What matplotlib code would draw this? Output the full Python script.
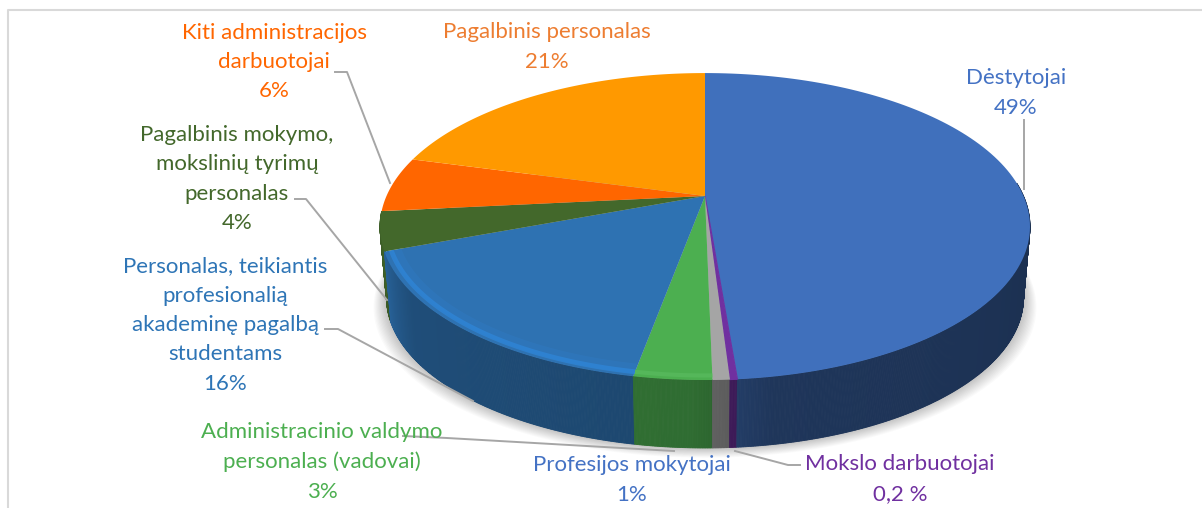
import numpy as np
import matplotlib
matplotlib.use('Agg')
import matplotlib.pyplot as plt
from matplotlib.patches import Polygon

plt.rcParams['font.family'] = ['Lato', 'DejaVu Sans']

labels = ['Dėstytojai', 'Mokslo darbuotojai', 'Profesijos mokytojai',
          'Administracinio valdymo\npersonalas (vadovai)',
          'Personalas, teikiantis\nprofesionalią\nakademinę pagalbą\nstudentams',
          'Pagalbinis mokymo,\nmokslinių tyrimų\npersonalas',
          'Kiti administracijos\ndarbuotojai', 'Pagalbinis personalas']
# slice sizes as measured on the picture, the printed labels are rounded
values = [48.7, 0.3, 0.7, 3.2, 16.4, 4.1, 5.8, 20.8]
value_labels = ['49%', '0,2 %', '1%', '3%', '16%', '4%', '6%', '21%']

colors = ['#4070bc', '#7030a0', '#a5a5a5', '#4caf50', '#2e72b2', '#43682b', '#ff6600', '#ff9900']
text_colors = ['#4472c4', '#7030a0', '#4472c4', '#4caf50', '#2e75b6', '#43682b', '#ff6600', '#ed7d31']
label_pos = [(1016, 93), (900, 479), (632, 480), (322, 462), (225, 325), (237, 179), (274, 62), (547, 47)]

# perspective of the disc, in pixels of the picture
cx, cy = 705, 196
rx, ry, k = 318.5, 147.4, 0.199
depth_cy, depth_scale = 227, 0.98
bottom_cy = 298


def top(theta, r=1.0):
    u, v = r * np.sin(theta), r * np.cos(theta)
    w = 1 + k * v
    return cx + rx * u / w, cy - ry * v / w


def bottom(theta):
    x, y = top(theta)
    return cx + depth_scale * (x - cx), bottom_cy + depth_scale * (y - depth_cy)


def shade(theta):
    deg = np.degrees(theta)
    return np.interp(deg, [90, 170, 182, 235, 250, 262, 300], [0.42, 0.48, 0.62, 0.68, 0.85, 0.92, 0.92])


fig = plt.figure(figsize=(12.02, 5.08), dpi=100)
ax = fig.add_axes([0, 0, 1, 1])
ax.set_xlim(0, 1202)
ax.set_ylim(508, 0)
ax.axis('off')

# frame of the chart area
ax.plot([8, 8, 1202], [508, 10, 10], color='#d9d9d9', lw=1.5, zorder=0)

angles = np.radians(np.concatenate([[0], np.cumsum(values)]) / np.sum(values) * 360)
circle = np.linspace(0, 2 * np.pi, 361)

# soft shadow under the disc
bx, by = bottom(circle)
for grow in np.linspace(13, 1, 12):
    sx = cx + (bx - cx) * (1 + grow / 320)
    sy = by + grow * 0.75
    ax.add_patch(Polygon(np.column_stack([sx, sy]), color='black', alpha=0.018, lw=0, zorder=1))

# side wall, slice by slice, the left ones from the back to the front
for i in [5, 4, 3, 2, 1, 0]:
    steps = np.linspace(angles[i], angles[i + 1], int(4 * np.degrees(angles[i + 1] - angles[i])) + 2)
    for a, b in zip(steps[:-1], steps[1:]):
        mid = (a + b) / 2
        if np.degrees(mid) < 85:
            continue
        tx, ty = top(np.array([a, b]))
        qx, qy = bottom(np.array([b, a]))
        rgb = np.array(matplotlib.colors.to_rgb(colors[i])) * shade(mid)
        ax.add_patch(Polygon(np.column_stack([np.r_[tx, qx], np.r_[ty, qy]]),
                             facecolor=rgb, edgecolor=rgb, lw=0.6, zorder=2))

# top of the disc
for i, col in enumerate(colors):
    th = np.linspace(angles[i], angles[i + 1], 120)
    x, y = top(th)
    ax.add_patch(Polygon(np.column_stack([np.r_[cx, x], np.r_[cy, y]]),
                         facecolor=col, edgecolor=col if values[i] < 0.5 else 'none',
                         lw=0.8 if values[i] < 0.5 else 0, zorder=3))

# lighter bevel along the front edge
th = np.linspace(angles[4], angles[5], 120)
ax.plot(*top(th, 0.965), color='#2f86d8', lw=7, alpha=0.2, zorder=4, solid_capstyle='butt')
ax.plot(*top(th, 0.98), color='#2f86d8', lw=3.5, alpha=0.75, zorder=4, solid_capstyle='butt')
th = np.linspace(angles[3], angles[4], 30)
ax.plot(*top(th, 0.98), color='#55b75a', lw=3, zorder=4, solid_capstyle='butt')

# leader lines
leaders = [([1024, 1024], [120, 189]),
           ([335, 347, 390], [72, 72, 183]),
           ([295, 306, 387], [199, 199, 300]),
           ([325, 338, 473], [329, 329, 401]),
           ([403, 447, 674], [436, 438, 451]),
           ([735, 788, 800], [451, 465, 465])]
for lx, ly in leaders:
    ax.plot(lx, ly, color='#a6a6a6', lw=1.4, zorder=5)

for name, val, col, (tx, ty) in zip(labels, value_labels, text_colors, label_pos):
    ax.text(tx, ty, name + '\n' + val, color=col, fontsize=16, ha='center', va='center',
            linespacing=1.58, zorder=6)

fig.savefig('out.png', dpi=100)
